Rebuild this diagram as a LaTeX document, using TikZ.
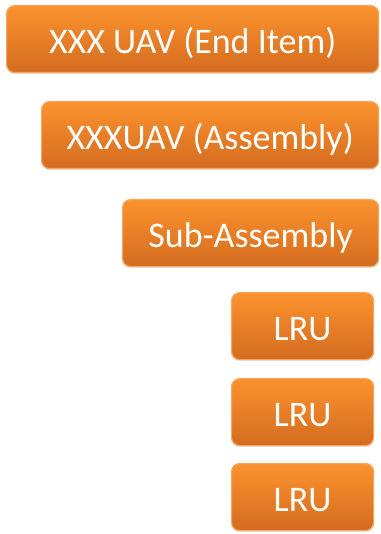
\documentclass[tikz,border=0pt]{standalone}
\usepackage{fontspec}
\setmainfont{Carlito}
\usepackage{tikz}
\usetikzlibrary{positioning, shadows}

\definecolor{boxtop}{RGB}{252,146,46}
\definecolor{boxbot}{RGB}{211,108,32}
\definecolor{boxline}{RGB}{247,165,95}

\begin{document}
\begin{tikzpicture}[
                x=1pt, y=-1pt,
                item/.style={draw=boxline, line width=1.2pt, rounded corners=8pt,
                    top color=boxtop, bottom color=boxbot, text=white,
                    font=\fontsize{36}{40}\selectfont, anchor=north west,
                    inner sep=0pt, minimum height=67pt, text depth=0pt, text height=28pt,
                    drop shadow={shadow xshift=0pt, shadow yshift=-1.5pt, opacity=0.2}},
            ]

                % page frame
                \useasboundingbox (0,0) rectangle (380,534);

                % Levels
                \node[item, minimum width=372pt] (enditem) at (6,5) {XXX UAV (End Item)};
                \node[item, minimum width=337pt] (assembly) at (41,101) {XXXUAV (Assembly)};
                \node[item, minimum width=256pt] (subassy) at (122,199) {Sub-Assembly};

                % LRUs
                \node[item, minimum width=142pt] (lru1) at (231,292) {LRU};
                \node[item, minimum width=142pt] (lru2) at (231,378) {LRU};
                \node[item, minimum width=142pt] (lru3) at (231,463) {LRU};
            \end{tikzpicture}
\end{document}
